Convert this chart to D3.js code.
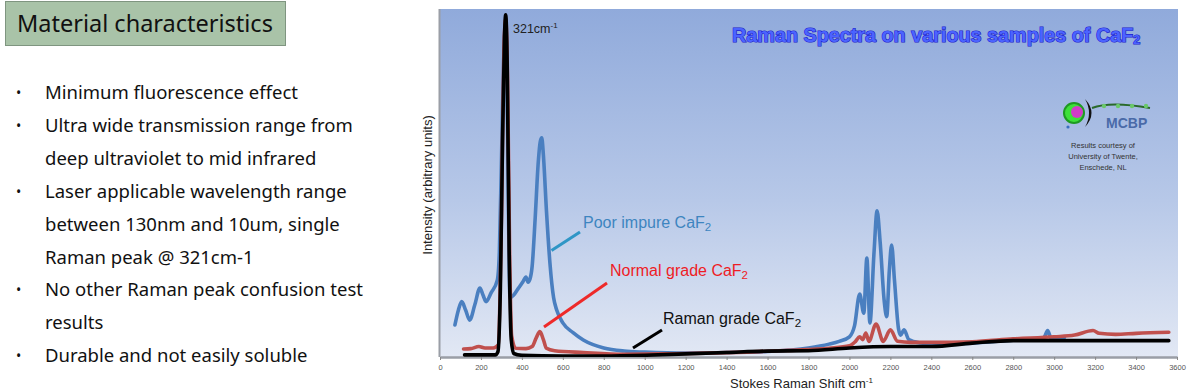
<!DOCTYPE html>
<html><head><meta charset="utf-8">
<script src="https://cdn.jsdelivr.net/npm/d3@7"></script>
<style>
html,body{margin:0;padding:0;background:#fff;}
svg{display:block;}
</style></head>
<body>
<svg id="c" width="1187" height="392"></svg>
<script>
// ---------- data ----------
const panelTitle = "Material characteristics";
const bullets = [
  ["Minimum fluorescence effect"],
  ["Ultra wide transmission range from", "deep ultraviolet to mid infrared"],
  ["Laser applicable wavelength range", "between 130nm and 10um, single", "Raman peak @ 321cm-1"],
  ["No other Raman peak confusion test", "results"],
  ["Durable and not easily soluble"]
];
const xTicks = [0,200,400,600,800,1000,1200,1400,1600,1800,2000,2200,2400,2600,2800,3000,3200,3400,3600];
const seriesNames = ["Poor impure CaF", "Normal grade CaF", "Raman grade CaF"];

// Poor impure CaF2 (blue)  [Raman shift cm-1, intensity a.u.]
const poorShift = [73,90,106,125,145,170,195,210,225,250,280,290,305,315,321,328,336,342,360,380,405,420,430,440,450,465,480,490,497,505,520,537,555,570,600,650,700,800,900,1000,1200,1400,1600,1800,1900,1950,2000,2025,2050,2070,2085,2100,2120,2135,2150,2170,2182,2195,2206,2220,2240,2250,2267,2290,2350,2400,2600,2800,2900,2950,2968,2985,3050];
const poorInt   = [9.2,13.5,15.9,13.5,10.6,15,19.8,17.8,15.9,18.5,22.1,30,70,92,96,80,35,17,17.8,19.5,21.6,23,21.5,22.5,26,40,56,62,63,58,42,27,17,13.5,9.8,7,4.9,2.6,1.7,1.4,1.1,1.3,1.6,2.6,3.7,4.5,5.8,9,18.1,12.6,28.4,9.8,30,42,33,16,11.6,25,32.2,22,8,6.3,7.8,5,4,3.7,4.0,4.8,4.9,5.6,7.6,5.4,5.6];

// Normal grade CaF2 (red)
const normalShift = [115,150,190,220,260,285,300,312,321,330,340,350,370,420,450,470,488,505,520,560,700,900,1100,1300,1500,1700,1900,2000,2030,2050,2065,2080,2095,2130,2165,2200,2235,2300,2400,2600,2800,3000,3100,3190,3220,3300,3400,3560];
const normalInt   = [2.3,2.4,3.0,2.6,2.6,3.5,40,88,97,80,30,6,2.5,2.4,3,5.5,7.3,5,2.5,1.8,1.3,0.8,0.9,1.1,1.4,1.9,2.5,3.2,4.5,5.8,5,6.9,4.5,9.5,4.5,7.8,4.5,4.2,4.2,4.4,5.2,5.8,6.3,7.6,6.8,6.5,6.8,7.1];

// Raman grade CaF2 (black)
const ramanShift = [120,200,270,283,295,305,315,321,328,338,348,360,400,600,800,1000,1200,1400,1600,1800,2000,2200,2400,2600,2800,3000,3200,3400,3560];
const ramanInt   = [0.6,0.6,0.6,1.5,20,60,92,98.3,85,30,5,1,0.5,0.3,0.3,0.5,0.9,1.3,1.7,1.8,2.6,3.0,3.0,4.0,4.7,4.7,4.7,4.7,4.7];

// ---------- layout ----------
const svg = d3.select("#c");
const pl = 440, pr = 1177, pt = 9, pb = 357;
const x = d3.scaleLinear().domain([0,3600]).range([pl,pr]);
const y = d3.scaleLinear().domain([0,100]).range([pb,pt]);

// ---------- left panel ----------
const txtFont = "'Noto Sans', 'Open Sans', sans-serif";
svg.append("rect").attr("x",5.5).attr("y",1.5).attr("width",280).attr("height",44)
  .attr("fill","#a9c3a8").attr("stroke","#7f9580").attr("stroke-width",1);
svg.append("text").attr("x",17).attr("y",32).attr("font-family",txtFont)
  .attr("font-size",23.5).attr("fill","#111").text(panelTitle);

let line = 0;
const lineH = 32.9, firstY = 99;
bullets.forEach(b => {
  svg.append("text").attr("x",16).attr("y",firstY + line*lineH - 1)
    .attr("font-family",txtFont).attr("font-size",14).attr("fill","#111").text("•");
  b.forEach(t => {
    svg.append("text").attr("x",45).attr("y",firstY + line*lineH)
      .attr("font-family",txtFont).attr("font-size",18.5).attr("fill","#111").text(t);
    line++;
  });
});

// ---------- chart background ----------
const defs = svg.append("defs");
const g = defs.append("linearGradient").attr("id","bg").attr("x1",0).attr("y1",0).attr("x2",0).attr("y2",1);
g.append("stop").attr("offset","0%").attr("stop-color","#90aadb");
g.append("stop").attr("offset","55%").attr("stop-color","#b7c8e8");
g.append("stop").attr("offset","100%").attr("stop-color","#e2e8f4");
defs.append("clipPath").attr("id","clip").append("rect")
  .attr("x",pl).attr("y",pt).attr("width",pr-pl+1).attr("height",pb-pt);

svg.append("rect").attr("x",pl).attr("y",pt).attr("width",pr-pl+1).attr("height",pb-pt)
  .attr("fill","url(#bg)");

// axes
const xAxis = d3.axisBottom(x).tickValues(xTicks).tickSize(3).tickSizeOuter(0).tickFormat(d3.format("d"));
const ax = svg.append("g").attr("transform",`translate(0,${pb})`).call(xAxis);
ax.select(".domain").attr("stroke","#9a9ea6").attr("stroke-width",2.5);
ax.selectAll(".tick line").attr("stroke","#888");
ax.selectAll(".tick text").attr("font-family","'Liberation Sans Narrow','Liberation Sans',sans-serif")
  .attr("font-size",7.5).attr("fill","#555").attr("dy","0.9em");
svg.append("line").attr("x1",pl-0.5).attr("x2",pl-0.5).attr("y1",pt).attr("y2",pb)
  .attr("stroke","#9a9ea6").attr("stroke-width",2);

// ---------- series ----------
const lineGen = d3.line().x(d=>x(d[0])).y(d=>y(d[1])).curve(d3.curveMonotoneX);
const plot = svg.append("g").attr("clip-path","url(#clip)");
const series = [
  {xs: poorShift,   ys: poorInt,   color: "#4a7fc0"},
  {xs: normalShift, ys: normalInt, color: "#c0504d"},
  {xs: ramanShift,  ys: ramanInt,  color: "#000000"}
];
series.forEach(s => {
  plot.append("path").datum(s.xs.map((v,i)=>[v,s.ys[i]]))
    .attr("d",lineGen).attr("fill","none").attr("stroke",s.color)
    .attr("stroke-width",3.6).attr("stroke-linejoin","round").attr("stroke-linecap","round");
});

// ---------- annotations ----------
const arial = "'Liberation Sans', Arial, sans-serif";
function caf(sel, prefix){
  sel.append("tspan").text(prefix);
  sel.append("tspan").attr("font-size","0.72em").attr("dy","0.3em").text("2");
}
// peak label
const pk = svg.append("text").attr("x",513).attr("y",33).attr("font-family",arial).attr("font-size",12.5).attr("fill","#222");
pk.append("tspan").text("321cm");
pk.append("tspan").attr("font-size",8).attr("dy",-5).text("-1");

// series labels with pointer lines
svg.append("line").attr("x1",551.5).attr("y1",250.5).attr("x2",580).attr("y2",232).attr("stroke","#2f96c6").attr("stroke-width",3);
caf(svg.append("text").attr("x",583).attr("y",228).attr("font-family",arial).attr("font-size",16).attr("fill","#3d85c0"), seriesNames[0]);

svg.append("line").attr("x1",544).attr("y1",327).attr("x2",607).attr("y2",283).attr("stroke","#ee2a2a").attr("stroke-width",3);
caf(svg.append("text").attr("x",610).attr("y",276).attr("font-family",arial).attr("font-size",16).attr("fill","#ee1c25"), seriesNames[1]);

svg.append("line").attr("x1",633).attr("y1",348).attr("x2",662).attr("y2",330).attr("stroke","#000").attr("stroke-width",3);
caf(svg.append("text").attr("x",663).attr("y",324).attr("font-family",arial).attr("font-size",16).attr("fill","#111"), seriesNames[2]);

// title
const tt = svg.append("text").attr("x",732).attr("y",42).attr("font-family",arial).attr("font-weight","bold")
  .attr("font-size",19.8).attr("fill","#4b63ff").attr("stroke","#1c1cc8").attr("stroke-width",1.2)
  .attr("paint-order","stroke");
tt.append("tspan").text("Raman Spectra on various samples of CaF");
tt.append("tspan").attr("font-size",12.5).attr("dy",2).text("2");

// logo
const lg = svg.append("g");
lg.append("circle").attr("cx",1074).attr("cy",113).attr("r",10).attr("fill","#3ee03a").attr("stroke","#1e9a22").attr("stroke-width",2);
lg.append("circle").attr("cx",1077).attr("cy",112).attr("r",6).attr("fill","#d23bc8");
lg.append("path").attr("d","M1085,99 Q1098,113 1085,127 Q1093,113 1085,99 Z").attr("fill","#111");
lg.append("path").attr("d","M1092,108 Q1110,101 1150,108").attr("fill","none").attr("stroke","#2a6a2a").attr("stroke-width",2);
[1104,1118,1132,1146].forEach(cx=>lg.append("circle").attr("cx",cx).attr("cy",106).attr("r",2.2).attr("fill","#6ac86a"));
lg.append("circle").attr("cx",1068).attr("cy",127).attr("r",1.6).attr("fill","#3a6fc0");
lg.append("text").attr("x",1106).attr("y",128).attr("font-family",arial).attr("font-weight","bold")
  .attr("font-size",14).attr("fill","#4a6aa8").text("MCBP");
["Results courtesy of","University of Twente,","Enschede, NL"].forEach((t,i)=>{
  svg.append("text").attr("x",1103).attr("y",148+i*11).attr("text-anchor","middle")
    .attr("font-family",arial).attr("font-size",7.5).attr("fill","#333").text(t);
});

// axis titles
svg.append("text").attr("transform","translate(432,185) rotate(-90)").attr("text-anchor","middle")
  .attr("font-family",arial).attr("font-size",13).attr("fill","#222").text("Intensity (arbitrary units)");
const xt = svg.append("text").attr("x",730).attr("y",388).attr("font-family",arial).attr("font-size",13).attr("fill","#222");
xt.append("tspan").text("Stokes Raman Shift cm");
xt.append("tspan").attr("font-size",8).attr("dy",-5).text("-1");
</script>
</body></html>
